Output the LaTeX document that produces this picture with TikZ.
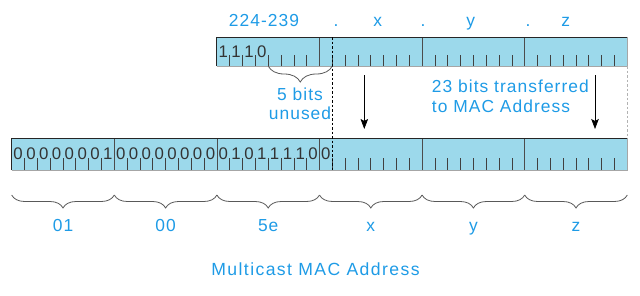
\documentclass[tikz,border=0pt]{standalone}
\usepackage{fontspec}
\setmainfont{Liberation Sans}
\newfontfamily\lblfont[LetterSpace=6]{Liberation Sans}
\newfontfamily\titlefont[LetterSpace=8]{Liberation Sans}
\usetikzlibrary{decorations.pathreplacing,arrows.meta}
\definecolor{txtblue}{RGB}{30,155,230}
\definecolor{barfill}{RGB}{156,217,235}
\begin{document}
\begin{tikzpicture}[x=1pt,y=-1pt,
  lbl/.style={font=\lblfont\fontsize{17.4}{20}\selectfont, text=txtblue, inner sep=0pt, anchor=base},
  bitd/.style={font=\fontsize{16.8}{18}\selectfont, inner sep=0pt, anchor=base, text=black!80},
  tickmark/.style={draw=black!75, line width=0.7pt},
  byteline/.style={draw=black!70, line width=0.8pt},
  edgeline/.style={draw=black!85, line width=0.9pt},
  lowedge/.style={draw=black!35, line width=0.8pt},
  bracestyle/.style={draw=black!65, line width=0.8pt, decorate, decoration={brace, mirror, amplitude=#1}},
  arrowline/.style={draw=black, line width=0.7pt, -{Stealth[length=10pt,width=7.5pt,inset=2pt]}},
  cutline/.style={draw=black, line width=0.7pt, dash pattern=on 2.5pt off 2pt},
  greycut/.style={draw=black!30, line width=0.7pt, dash pattern=on 2.5pt off 2pt}
]
\useasboundingbox (0,0) rectangle (640,295);
\def\xo{11.7}
\def\bw{102.6}
\def\bt{12.825}
% ---------- top bar ----------
\fill[barfill] (\xo+2*\bw,37) rectangle (\xo+6*\bw,66);
\foreach \i in {2,...,5}{
  \foreach \k in {1,...,7}{
    \draw[tickmark] (\xo+\i*\bw+\k*\bt,55) -- (\xo+\i*\bw+\k*\bt,66);
  }
}
\foreach \i in {3,4,5}{
  \draw[byteline] (\xo+\i*\bw,37) -- (\xo+\i*\bw,66);
}
\draw[lowedge] (\xo+2*\bw,66) -- (\xo+6*\bw,66) -- (\xo+6*\bw,37);
\draw[edgeline] (\xo+2*\bw,66) -- (\xo+2*\bw,37) -- (\xo+6*\bw,37);
\foreach \d [count=\k from 0] in {1,1,1,0}{
  \node[bitd] (tb\k) at (\xo+2*\bw+\k*\bt+0.5*\bt,57) {\d};
}
% ---------- bottom bar ----------
\fill[barfill] (\xo,138) rectangle (\xo+6*\bw,170);
\foreach \i in {0,...,5}{
  \foreach \k in {1,...,7}{
    \draw[tickmark] (\xo+\i*\bw+\k*\bt,158) -- (\xo+\i*\bw+\k*\bt,170);
  }
}
\foreach \i in {1,...,5}{
  \draw[byteline] (\xo+\i*\bw,138) -- (\xo+\i*\bw,170);
}
\draw[lowedge] (\xo,170) -- (\xo+6*\bw,170) -- (\xo+6*\bw,138);
\draw[edgeline] (\xo,170) -- (\xo,138) -- (\xo+6*\bw,138);
\foreach \d [count=\k from 0] in {0,0,0,0,0,0,0,1,0,0,0,0,0,0,0,0,0,1,0,1,1,1,1,0,0}{
  \node[bitd] (bb\k) at (\xo+\k*\bt+0.5*\bt,159) {\d};
}
% ---------- dashed lines ----------
\coordinate (cutT) at (\xo+3*\bw+\bt,37);
\coordinate (cutB) at (\xo+3*\bw+\bt,170);
\draw[cutline] (cutT) -- (cutB);
\coordinate (gT) at (\xo+6*\bw,66);
\coordinate (gB) at (\xo+6*\bw,138);
\draw[greycut] (gT) -- (gB);
% ---------- top labels ----------
\node[lbl] (l224) at (264,26.7) {224-239};
\node[lbl] (d1) at (336,26.7) {.};
\node[lbl] (lx) at (377.7,26.7) {x};
\node[lbl] (d2) at (423,26.7) {.};
\node[lbl] (ly) at (470.7,26.7) {y};
\node[lbl] (d3) at (528,26.7) {.};
\node[lbl] (lz) at (565.7,26.7) {z};
% ---------- unused brace ----------
\draw[bracestyle=16] (\xo+2*\bw+4*\bt,66) -- (\xo+3*\bw+\bt,66);
\node[lbl] (u1) at (300,100.7) {5 bits};
\node[lbl] (u2) at (300,119.3) {unused};
% ---------- arrows ----------
\coordinate (a1s) at (364.3,75);
\coordinate (a1e) at (364.3,129);
\coordinate (a2s) at (595,75);
\coordinate (a2e) at (595,129);
\draw[arrowline] (a1s) -- (a1e);
\draw[arrowline] (a2s) -- (a2e);
\node[lbl, anchor=base west] (t1) at (431.7,92.7) {23 bits transferred};
\node[lbl, anchor=base west] (t2) at (431.7,112.7) {to MAC Address};
% ---------- bottom braces ----------
\foreach \i/\t in {0/01,1/00,2/5e,3/x,4/y,5/z}{
  \draw[bracestyle=13] (\xo+\i*\bw,195) -- (\xo+\i*\bw+\bw,195);
  \node[lbl] (bl\i) at (\xo+\i*\bw+0.5*\bw,231.7) {\t};
}
\node[lbl, font=\titlefont\fontsize{17.6}{20}\selectfont] (title) at (315.5,275.7) {Multicast MAC Address};
\end{tikzpicture}
\end{document}
